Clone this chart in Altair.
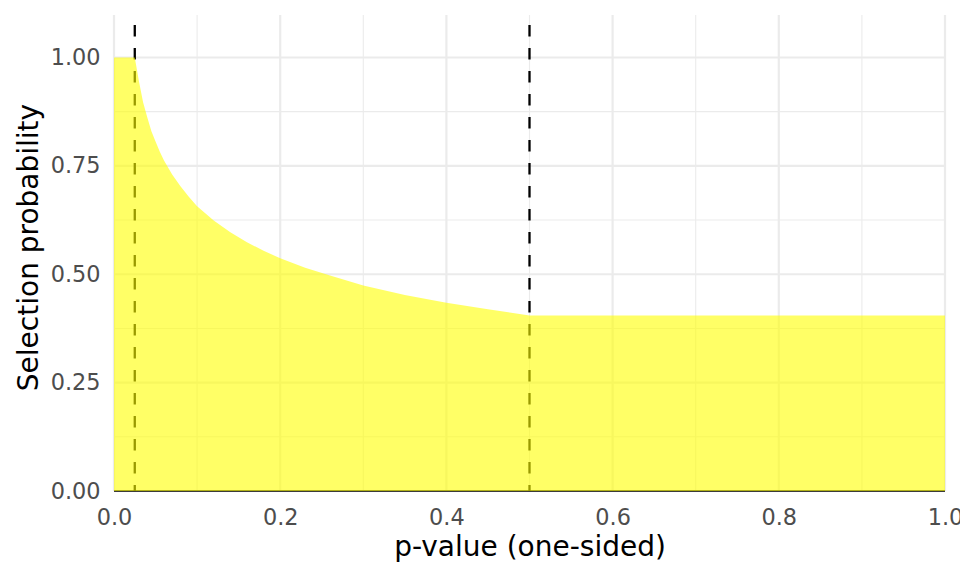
import altair as alt
import pandas as pd

# ---- data ----
p_values = [0.0, 0.025, 0.03, 0.035, 0.04, 0.045, 0.05, 0.055, 0.06, 0.07, 0.08, 0.09,
            0.10, 0.12, 0.14, 0.16, 0.18, 0.20, 0.23, 0.26, 0.30, 0.35, 0.40, 0.45,
            0.50, 1.00]
selection_prob = [1.0, 1.0, 0.945, 0.897, 0.862, 0.830, 0.806, 0.783, 0.763, 0.730, 0.703, 0.679,
                  0.657, 0.624, 0.597, 0.574, 0.554, 0.537, 0.515, 0.497, 0.474, 0.452, 0.434, 0.419,
                  0.405, 0.405]
cutpoints = [0.025, 0.5]

x_major = [0.0, 0.2, 0.4, 0.6, 0.8, 1.0]
x_minor = [0.1, 0.3, 0.5, 0.7, 0.9]
y_major = [0.0, 0.25, 0.5, 0.75, 1.0]
y_minor = [0.125, 0.375, 0.625, 0.875]

Y_MAX = 1.098

curve_df = pd.DataFrame({"p": p_values, "w": selection_prob})
cut_df = pd.DataFrame({"c": cutpoints})
xmaj_df = pd.DataFrame({"v": x_major})
xmin_df = pd.DataFrame({"v": x_minor})
ymaj_df = pd.DataFrame({"v": y_major})
ymin_df = pd.DataFrame({"v": y_minor})

xscale = alt.Scale(domain=[0, 1], nice=False, zero=False)
yscale = alt.Scale(domain=[0, Y_MAX], nice=False, zero=False)

xaxis = alt.Axis(title="p-value (one-sided)", values=x_major, format=".1f",
                 grid=False, ticks=False, tickSize=0, domain=False,
                 labelFlush=False, labelOverlap=False,
                 labelPadding=15, labelFontSize=22.4, labelColor="#4D4D4D",
                 titleFontSize=28, titleColor="black", titleFontWeight="normal",
                 titleBaseline="alphabetic", titleY=64)
yaxis = alt.Axis(title="Selection probability", values=y_major, format=".2f",
                 grid=False, ticks=False, tickSize=0, domain=False,
                 labelFlush=False, labelOverlap=False,
                 labelPadding=14, labelFontSize=22.4, labelColor="#4D4D4D",
                 titleFontSize=28, titleColor="black", titleFontWeight="normal",
                 titleAngle=-90, titleBaseline="alphabetic", titleAlign="center",
                 titleX=-77, titleY=232)

GRID = "#EBEBEB"

xgrid_major = alt.Chart(xmaj_df).mark_rule(color=GRID, strokeWidth=2.2).encode(
    x=alt.X("v:Q", scale=xscale, axis=xaxis))
xgrid_minor = alt.Chart(xmin_df).mark_rule(color=GRID, strokeWidth=1.1).encode(
    x=alt.X("v:Q", scale=xscale, axis=xaxis))
ygrid_major = alt.Chart(ymaj_df).mark_rule(color=GRID, strokeWidth=2.2).encode(
    y=alt.Y("v:Q", scale=yscale, axis=yaxis))
ygrid_minor = alt.Chart(ymin_df).mark_rule(color=GRID, strokeWidth=1.1).encode(
    y=alt.Y("v:Q", scale=yscale, axis=yaxis))

dashed = alt.Chart(cut_df).mark_rule(
    color="black", strokeWidth=2.3, strokeDash=[11.5, 11.5], strokeDashOffset=13
).encode(
    x=alt.X("c:Q", scale=xscale, axis=xaxis),
    y=alt.Y("top:Q", scale=yscale, axis=yaxis),
    y2="bottom:Q",
).transform_calculate(top=str(Y_MAX), bottom="0")

baseline = alt.Chart(pd.DataFrame({"v": [0.0]})).mark_rule(
    color="black", strokeWidth=1.6).encode(
    y=alt.Y("v:Q", scale=yscale, axis=yaxis))

area = alt.Chart(curve_df).mark_area(color="#FFFF00", opacity=0.6, interpolate="linear").encode(
    x=alt.X("p:Q", scale=xscale, axis=xaxis),
    y=alt.Y("w:Q", scale=yscale, axis=yaxis),
)

chart = alt.layer(
    xgrid_minor, ygrid_minor, xgrid_major, ygrid_major, dashed, baseline, area
).properties(
    width=831, height=476,
    autosize=alt.AutoSizeParams(type="none"),
    padding={"left": 114, "top": 15, "right": 15, "bottom": 85},
    background="white",
).configure(font="DejaVu Sans").configure_view(strokeWidth=0, stroke="transparent")

chart.save("out.html", embed_options={"renderer": "svg", "actions": False})
